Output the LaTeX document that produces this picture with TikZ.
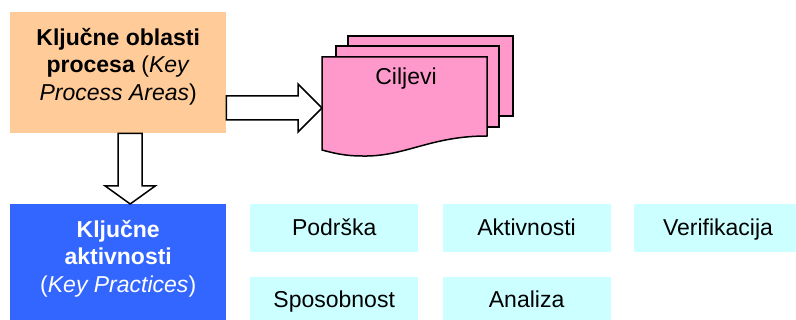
\documentclass[tikz,border=0pt]{standalone}
\usepackage{fontspec}
\setmainfont{Liberation Sans}
\usetikzlibrary{positioning,calc}
\definecolor{kpaorange}{HTML}{FFCC99}
\definecolor{kpblue}{HTML}{3366FF}
\definecolor{itemcyan}{HTML}{CCFFFF}
\definecolor{goalpink}{HTML}{FF99CC}

\begin{document}
\begin{tikzpicture}[x=1pt,y=-1pt,font=\fontsize{23}{27.5}\selectfont,
  bigbox/.style={minimum width=216pt,minimum height=121pt,inner sep=0pt,anchor=north west},
  itembox/.style={fill=itemcyan,minimum width=168pt,minimum height=48pt,inner sep=0pt,
    text height=17pt,text depth=3pt},
  boxtext/.style={align=center,inner sep=0pt,anchor=north},
  blockarrow/.style={draw=black,fill=white,line width=1.5pt,line join=miter},
  sheet/.style={draw=black,fill=goalpink,line width=1.5pt}]

\useasboundingbox (0,0) rectangle (796,320);

% key process areas
\node[bigbox,fill=kpaorange] (kpa) at (10,12) {};
\node[boxtext] (kpatext) at ($(kpa.north)+(0,16)$)
  {\textbf{Ključne oblasti}\\\textbf{procesa} (\textit{Key}\\\textit{Process Areas})};

% key practices
\node[bigbox,fill=kpblue] (kp) at (10,204) {};
\node[boxtext,text=white] (kptext) at ($(kp.north)+(0,16)$)
  {\textbf{Ključne}\\\textbf{aktivnosti}\\(\textit{Key Practices})};

% common features
\node[itembox,anchor=north west] (podrska) at (250,204) {Podrška};
\node[itembox,right=24pt of podrska] (aktivnosti) {Aktivnosti};
\node[itembox,right=23pt of aktivnosti] (verifikacija) {Verifikacija};
\node[itembox,below=24pt of podrska] (sposobnost) {Sposobnost};
\node[itembox,below=24pt of aktivnosti] (analiza) {Analiza};

% goals (stack of documents)
\draw[sheet] (348,36) rectangle (513,116);
\draw[sheet] (336,46) rectangle (499,127);
\draw[sheet] (322,57) -- (487,57) -- (487,136)
  .. controls (430,136) and (405,157) .. (362,156)
  .. controls (345,156) and (333,153) .. (322,150) -- cycle;
\node[anchor=base] (ciljevi) at (406,85) {Ciljevi};
\coordinate (goal) at (322,108);

% block arrows
\coordinate (rtail) at (kpa.east |- goal);
\filldraw[blockarrow] ($(rtail)+(0,-12)$) -- ($(goal)+(-24,-12)$) -- ($(goal)+(-24,-24)$)
  -- (goal) -- ($(goal)+(-24,24)$) -- ($(goal)+(-24,12)$) -- ($(rtail)+(0,12)$) -- cycle;

\coordinate (dtail) at ($(kpa.south)+(12,0)$);
\coordinate (dtip) at ($(kp.north)+(12,0)$);
\filldraw[blockarrow] ($(dtail)+(-12,0)$) -- ($(dtip)+(-12,-18)$) -- ($(dtip)+(-25,-18)$)
  -- (dtip) -- ($(dtip)+(25,-18)$) -- ($(dtip)+(12,-18)$) -- ($(dtail)+(12,0)$) -- cycle;

\end{tikzpicture}
\end{document}
